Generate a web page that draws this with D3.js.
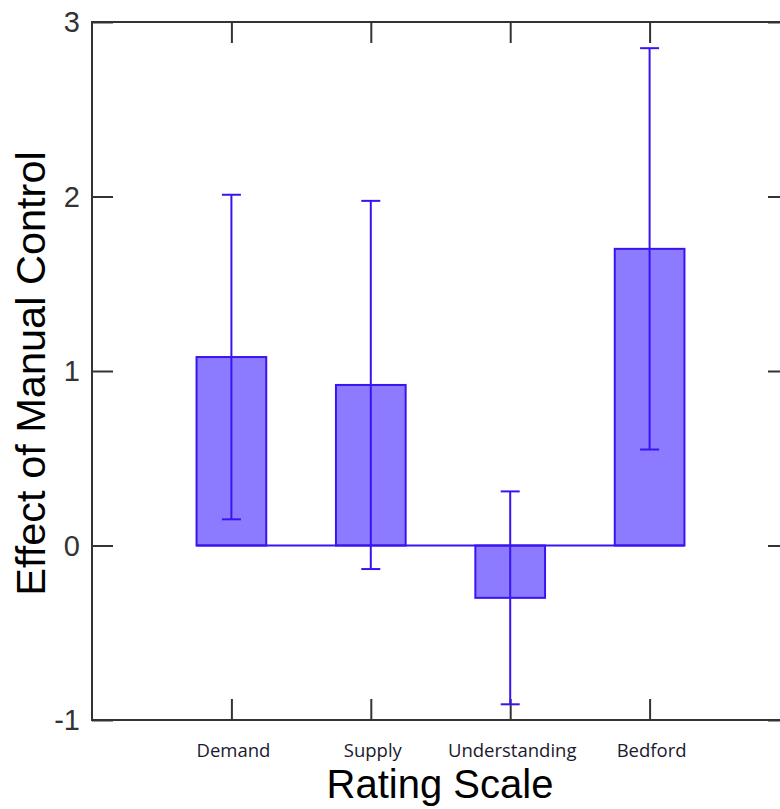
<!DOCTYPE html>
<html>
<head>
<meta charset="utf-8">
<script src="https://cdn.jsdelivr.net/npm/d3@7"></script>
<style>
  html, body { margin: 0; padding: 0; background: #fff; overflow: hidden; }
  svg { display: block; }
</style>
</head>
<body>
<svg id="chart" width="780" height="809"></svg>
<script>
// Rating scales and the mean effect of manual control with its error
const categories = ["Demand", "Supply", "Understanding", "Bedford"];
const means = [1.08, 0.92, -0.30, 1.70];
const errors = [0.93, 1.055, 0.61, 1.15];
const yTicks = [-1, 0, 1, 2, 3];

const svg = d3.select("#chart");
const plotLeft = 92, plotTop = 22, plotBottom = 720, plotRight = 789;

// categories sit at 1..4 on a linear axis running from 0 to 5
const x = d3.scaleLinear().domain([0, 5]).range([plotLeft, plotRight]);
const y = d3.scaleLinear().domain([-1, 3]).range([plotBottom, plotTop]);
const barW = x(0.5) - x(0);
const pos = categories.map((c, i) => i + 1);

const frameColor = "#333";
const blue = "#3a14f0";
const fill = "#8c7bff";

// frame
svg.append("rect")
  .attr("x", plotLeft).attr("y", plotTop)
  .attr("width", plotRight - plotLeft).attr("height", plotBottom - plotTop)
  .attr("fill", "none").attr("stroke", frameColor).attr("stroke-width", 2);

// inward ticks on all four sides
const tickLen = 21;
const axL = d3.axisRight(y).tickValues(yTicks).tickSize(tickLen).tickFormat("");
const axR = d3.axisLeft(y).tickValues(yTicks).tickSize(tickLen).tickFormat("");
const axB = d3.axisTop(x).tickValues(pos).tickSize(tickLen).tickFormat("");
const axT = d3.axisBottom(x).tickValues(pos).tickSize(tickLen).tickFormat("");
[[axL, `translate(${plotLeft},0)`], [axR, `translate(${plotRight},0)`],
 [axB, `translate(0,${plotBottom})`], [axT, `translate(0,${plotTop})`]].forEach(([ax, tr]) => {
  const g = svg.append("g").attr("transform", tr).call(ax);
  g.select(".domain").remove();
  g.selectAll(".tick line").attr("stroke", frameColor).attr("stroke-width", 2);
});

// y tick labels
svg.append("g").selectAll("text").data(yTicks).join("text")
  .attr("x", plotLeft - 12).attr("y", d => y(d))
  .attr("dy", "0.36em")
  .attr("text-anchor", "end")
  .attr("font-family", "Liberation Sans, Arial, sans-serif")
  .attr("font-size", 29)
  .attr("fill", "#333")
  .text(d => d);

// x tick labels
svg.append("g").selectAll("text").data(categories).join("text")
  .attr("x", (d, i) => x(pos[i]) + 2).attr("y", 757)
  .attr("text-anchor", "middle")
  .attr("font-family", "Open Sans, Noto Sans, sans-serif")
  .attr("font-size", 18.5)
  .attr("fill", "#1a1a2e")
  .text(d => d);

// axis titles
svg.append("text")
  .attr("x", 440).attr("y", 798)
  .attr("text-anchor", "middle")
  .attr("font-family", "Liberation Sans, Arial, sans-serif")
  .attr("font-size", 40)
  .attr("fill", "#000")
  .text("Rating Scale");

svg.append("text")
  .attr("transform", `translate(45,${(150 + 597) / 2}) rotate(-90)`)
  .attr("text-anchor", "middle")
  .attr("font-family", "Liberation Sans, Arial, sans-serif")
  .attr("font-size", 41.5)
  .attr("fill", "#000")
  .text("Effect of Manual Control");

// bars
svg.append("g").selectAll("rect").data(means).join("rect")
  .attr("x", (d, i) => x(pos[i]) - barW / 2)
  .attr("y", d => y(Math.max(0, d)))
  .attr("width", barW)
  .attr("height", d => Math.abs(y(d) - y(0)))
  .attr("fill", fill)
  .attr("stroke", blue).attr("stroke-width", 2);

// zero line joining the bars
svg.append("line")
  .attr("x1", x(pos[0]) - barW / 2).attr("x2", x(pos[pos.length - 1]) + barW / 2)
  .attr("y1", y(0)).attr("y2", y(0))
  .attr("stroke", blue).attr("stroke-width", 2);

// error bars
const capW = 19;
const eb = svg.append("g").selectAll("g").data(means).join("g");
eb.append("line")
  .attr("x1", (d, i) => x(pos[i])).attr("x2", (d, i) => x(pos[i]))
  .attr("y1", (d, i) => y(d + errors[i])).attr("y2", (d, i) => y(d - errors[i]))
  .attr("stroke", blue).attr("stroke-width", 2);
eb.append("line")
  .attr("x1", (d, i) => x(pos[i]) - capW / 2).attr("x2", (d, i) => x(pos[i]) + capW / 2)
  .attr("y1", (d, i) => y(d + errors[i])).attr("y2", (d, i) => y(d + errors[i]))
  .attr("stroke", blue).attr("stroke-width", 2);
eb.append("line")
  .attr("x1", (d, i) => x(pos[i]) - capW / 2).attr("x2", (d, i) => x(pos[i]) + capW / 2)
  .attr("y1", (d, i) => y(d - errors[i])).attr("y2", (d, i) => y(d - errors[i]))
  .attr("stroke", blue).attr("stroke-width", 2);
</script>
</body>
</html>
